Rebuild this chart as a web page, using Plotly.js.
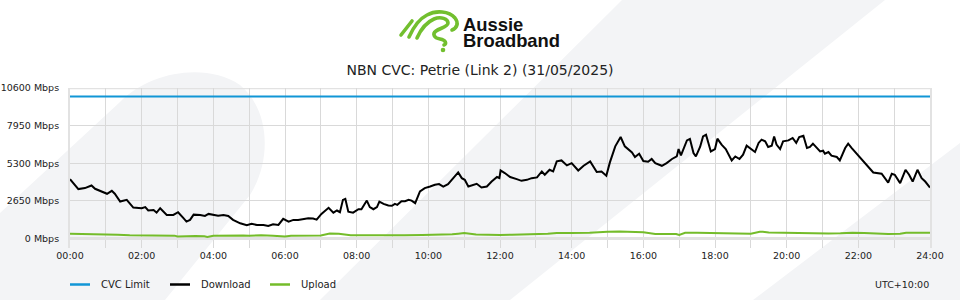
<!DOCTYPE html>
<html>
<head>
<meta charset="utf-8">
<script src="https://cdn.plot.ly/plotly-3.0.1.min.js"></script>
<style>html,body{margin:0;padding:0;background:#fff}#chart{width:960px;height:300px}</style>
</head>
<body>
<div id="chart"></div>
<script>
// ---------- data ----------
const xTickLabels = ["00:00","02:00","04:00","06:00","08:00","10:00","12:00","14:00","16:00","18:00","20:00","22:00","24:00"];
const yTickValues = [0, 2650, 5300, 7950, 10600];
const yTickLabels = ["0 Mbps","2650 Mbps","5300 Mbps","7950 Mbps","10600 Mbps"];

const seriesNames = ["CVC Limit", "Download", "Upload"];

const cvcMinutes = [0, 1440];
const cvcMbps = [10000, 10000];

const downloadMinutes = [0,8,14,25,36,42,50,62,70,75,84,95,106,120,126,131,140,145,151,162,173,181,190,195,201,207,218,226,232,240,248,257,265,273,285,296,304,313,324,332,340,349,357,366,374,382,391,399,407,413,421,433,441,447,452,457,461,466,474,483,488,497,502,508,514,518,525,533,539,544,548,555,561,567,572,578,586,594,603,611,618,625,633,639,645,650,656,661,667,675,681,689,698,706,715,719,721,728,737,748,756,765,773,782,790,795,803,809,815,823,832,840,851,860,871,882,890,898,904,913,922,929,941,946,953,960,968,974,980,991,999,1008,1016,1019,1023,1033,1038,1044,1048,1055,1060,1065,1073,1080,1084,1091,1098,1108,1114,1121,1127,1133,1139,1147,1153,1158,1164,1169,1175,1179,1183,1189,1194,1203,1210,1216,1221,1228,1234,1239,1244,1250,1256,1261,1264,1270,1275,1284,1289,1298,1303,1309,1320,1334,1345,1359,1365,1370,1376,1381,1390,1393,1399,1405,1411,1419,1426,1432,1440];
const downloadMbps = [4180,3780,3480,3550,3730,3500,3380,3150,3360,3150,2600,2720,2180,2130,2210,1970,2010,1820,2130,1660,1660,1850,1430,1190,1310,1680,1660,1590,1730,1680,1610,1660,1590,1310,1070,930,1030,950,950,880,1000,950,1380,1190,1310,1310,1400,1430,1400,1330,1730,2160,1820,1970,1850,2720,2790,1890,1820,2060,2060,2670,2210,2060,2210,2600,2440,2320,2300,2440,2370,2630,2630,2720,2670,2490,3310,3550,3660,3780,3830,3660,3830,4130,4370,4650,4250,4130,3660,3780,3850,3590,3660,4010,4330,4250,4790,4610,4330,4180,4060,4130,4250,4300,4720,4490,4840,4720,5430,5500,5150,5310,4790,5120,5430,4680,4720,4420,5360,6490,7150,6490,6060,5740,5970,5450,5400,5600,5310,5120,5310,5600,5780,6300,5850,6910,7010,6020,5780,6450,7190,7310,6130,6300,7030,6610,6300,5500,5780,5600,5900,6540,6370,6090,6730,6960,6840,6450,6540,7190,6610,6300,6840,6910,7080,6730,7150,7240,6370,6450,6680,6370,6130,6180,5970,6090,5830,5740,5500,6370,6680,6370,5830,5190,4650,4560,4180,3940,4560,4490,3900,4250,4840,4490,4010,4840,4250,4010,3590];

const uploadMinutes = [0,20,40,60,80,100,120,140,160,175,180,190,210,225,230,240,260,285,290,300,320,340,355,360,370,390,420,435,440,450,470,500,530,560,590,620,640,650,660,680,700,720,740,760,780,800,815,820,840,870,890,900,920,940,960,980,1000,1015,1020,1030,1050,1070,1090,1110,1140,1155,1160,1170,1190,1210,1230,1250,1270,1290,1310,1330,1350,1370,1390,1400,1420,1440];
const uploadMbps = [330,320,300,280,270,220,210,220,210,200,140,170,180,150,110,190,200,260,210,200,230,200,190,140,200,200,210,350,360,330,220,210,220,230,240,260,290,340,380,280,250,250,260,280,300,330,390,400,390,410,420,470,490,480,440,320,320,320,250,400,410,400,360,340,330,470,480,420,410,400,340,330,350,370,410,380,320,310,330,400,410,410];

const timezoneLabel = "UTC+10:00";
const chartTitle = "NBN CVC: Petrie (Link 2) (31/05/2025)";
const brandLines = ["Aussie", "Broadband"];

// ---------- styling ----------
const colors = { cvc: "#1196d6", download: "#000000", upload: "#74bc2a" };
const M = { l: 70, r: 30, t: 88, b: 52 };
const W = 960, H = 300;
const PW = W - M.l - M.r, PH = H - M.t - M.b;
const PX = x => (x - M.l) / PW;
const PY = y => (H - M.b - y) / PH;

const xTickVals = [], xTickText = [];
for (let m = 0; m <= 1440; m += 60) {
  xTickVals.push(m);
  xTickText.push(m % 120 === 0 ? xTickLabels[m / 120] : "");
}

const bgSvg = '<svg xmlns="http://www.w3.org/2000/svg" width="960" height="300" viewBox="0 0 960 300" preserveAspectRatio="none">' +
  '<g fill="#f3f4f6">' +
  '<path d="M0,213 L120,102 C150,72 205,62 240,85 C270,110 272,160 250,195 L165,300 L0,300 Z"/>' +
  '<path d="M622,0 L885,0 L510,300 L320,300 Z"/>' +
  '<path d="M753,300 L960,143 L960,300 Z"/>' +
  '</g>' +
  '<g fill="none" stroke="#72bf2e" stroke-width="3.6" stroke-linecap="round" stroke-linejoin="round">' +
  '<path d="M401,35 L412,21"/>' +
  '<path d="M409,37 C413,28 419,19 427,15 C436,10 449,11 455,18 C459,23 457,28 452,30"/>' +
  '<path d="M417,38 C421,29 427,22 434,19 C441,16 448,19 448,23 C448,27 440,28 436,31 C432,34 434,38 440,39 C446,40 447,44 444,45"/>' +
  '</g>' +
  '<circle cx="443" cy="50" r="2.3" fill="#72bf2e"/>' +
  '</svg>';
const bgURI = 'data:image/svg+xml;charset=utf-8,' + encodeURIComponent(bgSvg);

const traces = [
  { x: cvcMinutes, y: cvcMbps, name: seriesNames[0], type: "scatter", mode: "lines", line: { color: colors.cvc, width: 2 }, hoverinfo: "skip" },
  { x: uploadMinutes, y: uploadMbps, name: seriesNames[2], type: "scatter", mode: "lines", line: { color: colors.upload, width: 2 }, hoverinfo: "skip" },
  { x: downloadMinutes, y: downloadMbps, name: seriesNames[1], type: "scatter", mode: "lines", line: { color: colors.download, width: 2 }, hoverinfo: "skip" }
];

const legendItems = [
  { name: seriesNames[0], color: colors.cvc, x: 70 },
  { name: seriesNames[1], color: colors.download, x: 170 },
  { name: seriesNames[2], color: colors.upload, x: 270 }
];
const legendY = 284.5;

const shapes = [
  { type: "line", xref: "paper", yref: "y", x0: 0, x1: 1, y0: yTickValues[4], y1: yTickValues[4], line: { color: "#e2e2e2", width: 2.5 }, layer: "below" }
];
const brandText = brandLines.map(s => '<span style="font-size:18.4px">' + s + '</span>').join('<br>');
const annotations = [
  { text: brandText, xref: "paper", yref: "paper", x: PX(460.5), y: PY(32.6), xanchor: "left", yanchor: "middle", align: "left", showarrow: false, font: { family: "Liberation Sans, Arial, sans-serif", size: 12.1, weight: 700, color: "#111" } },
  { text: timezoneLabel, xref: "paper", yref: "paper", x: PX(931), y: PY(legendY), xanchor: "right", yanchor: "middle", showarrow: false, font: { size: 9.5, color: "#222" } }
];
legendItems.forEach(it => {
  shapes.push({ type: "line", xref: "paper", yref: "paper", x0: PX(it.x), x1: PX(it.x + 20), y0: PY(legendY), y1: PY(legendY), line: { color: it.color, width: 2.5 } });
  annotations.push({ text: it.name, xref: "paper", yref: "paper", x: PX(it.x + 29), y: PY(legendY), xanchor: "left", yanchor: "middle", showarrow: false, font: { size: 10, color: "#222" } });
});

const layout = {
  width: W, height: H,
  margin: M,
  paper_bgcolor: "#ffffff",
  plot_bgcolor: "rgba(0,0,0,0)",
  showlegend: false,
  font: { family: "DejaVu Sans, sans-serif", size: 10, color: "#222" },
  title: { text: chartTitle, font: { family: "DejaVu Sans, sans-serif", size: 14, color: "#222" }, x: 0.5, xref: "container", xanchor: "center", y: 1 - 70.5 / H, yref: "container", yanchor: "middle" },
  xaxis: { range: [0, 1440], tickmode: "array", tickvals: xTickVals, ticktext: xTickText, showgrid: true, gridcolor: "#d9d9d9", gridwidth: 1, zeroline: false, showline: false, ticks: "", tickfont: { size: 9.5 }, fixedrange: true },
  yaxis: { range: [-671, 10600], tickmode: "array", tickvals: yTickValues, ticktext: yTickLabels, showgrid: true, gridcolor: "#d9d9d9", gridwidth: 1, zeroline: true, zerolinecolor: "#e2e2e2", zerolinewidth: 2.5, showline: true, mirror: true, linecolor: "#e2e2e2", linewidth: 2, ticks: "outside", ticklen: 7, tickcolor: "rgba(0,0,0,0)", tickfont: { size: 9.5 }, fixedrange: true },
  shapes: shapes,
  annotations: annotations,
  images: [{ source: bgURI, xref: "paper", yref: "paper", x: PX(0), y: PY(0), sizex: W / PW, sizey: H / PH, xanchor: "left", yanchor: "top", sizing: "stretch", layer: "below" }]
};

Plotly.newPlot("chart", traces, layout, { staticPlot: true, displayModeBar: false });
</script>
</body>
</html>
